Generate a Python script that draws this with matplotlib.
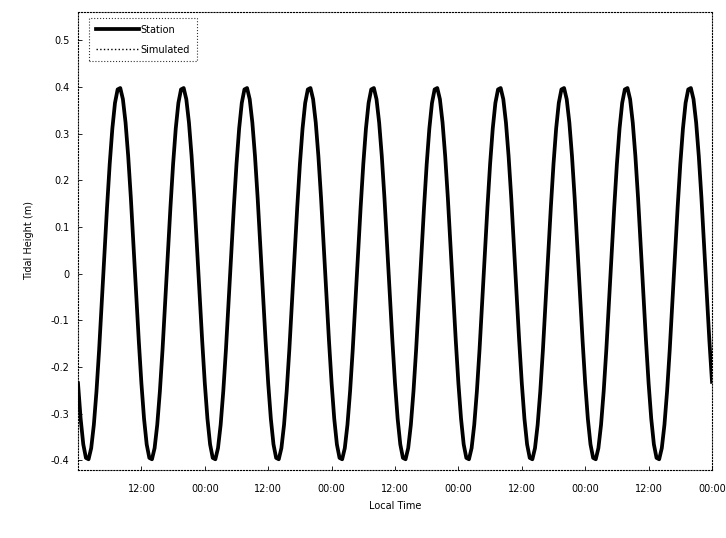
import matplotlib
matplotlib.use("Agg")
import matplotlib.pyplot as plt
import numpy as np

# Half-hourly samples over 5 days (hours 0..120)
cycle_vals = [-0.235, -0.311, -0.366, -0.395, -0.398, -0.374, -0.324, -0.252,
              -0.163, -0.062, 0.042, 0.143, 0.235, 0.311, 0.366, 0.395,
              0.398, 0.374, 0.324, 0.252, 0.163, 0.062, -0.042, -0.143]
series_a = cycle_vals * 10 + [-0.232]
series_b = cycle_vals * 10 + [-0.232]
hours = np.arange(len(series_a)) * 0.5

tick_hours = [12, 24, 36, 48, 60, 72, 84, 96, 108, 120]
tick_labels = ["12:00", "00:00", "12:00", "00:00", "12:00", "00:00", "12:00", "00:00", "12:00", "00:00"]
y_ticks = [-0.4, -0.3, -0.2, -0.1, 0, 0.1, 0.2, 0.3, 0.4, 0.5]
y_tick_labels = ["-0.4", "-0.3", "-0.2", "-0.1", "0", "0.1", "0.2", "0.3", "0.4", "0.5"]

fig = plt.figure(figsize=(7.26, 5.38), dpi=100)
ax = fig.add_axes([78/726, 1-470/538, (712-78)/726, (470-12)/538])

ax.plot(hours, series_a, color="black", lw=2.7, solid_joinstyle="round", label="Station")
ax.plot(hours, series_b, color="black", lw=1.0, ls=":", label="Simulated")

ax.set_xlim(0, 120)
ax.set_ylim(-0.421, 0.561)
ax.set_xticks(tick_hours)
ax.set_xticklabels(tick_labels)
ax.set_yticks(y_ticks)
ax.set_yticklabels(y_tick_labels)
ax.tick_params(direction="in", labelsize=7, length=3, width=0.6)
ax.tick_params(axis="x", pad=10)
ax.tick_params(axis="y", pad=6)
ax.set_xlabel("Local Time", fontsize=7, labelpad=5)
ax.set_ylabel("Tidal Height (m)", fontsize=7, labelpad=12)

for s in ax.spines.values():
    s.set_linestyle(":")
    s.set_linewidth(0.8)

leg = ax.legend(loc="upper left", bbox_to_anchor=(11/634, 1-6/458), fontsize=7,
                frameon=True, fancybox=False, handlelength=4.4, borderaxespad=0,
                handletextpad=0.2, borderpad=0.7, labelspacing=1.0)
leg.get_frame().set_edgecolor("black")
leg.get_frame().set_linestyle(":")
leg.get_frame().set_linewidth(0.8)

fig.savefig("out.png", dpi=100)
